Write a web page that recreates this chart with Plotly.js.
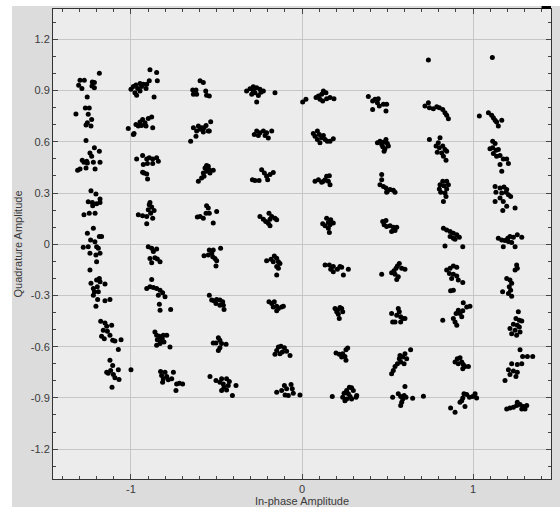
<!DOCTYPE html>
<html>
<head>
<meta charset="utf-8">
<script src="https://cdn.plot.ly/plotly-3.0.1.min.js"></script>
<style>
  html, body { margin: 0; padding: 0; background: #ffffff; }
  #plot { position: absolute; left: 12px; top: 6px; width: 548px; height: 501px; }
</style>
</head>
<body>
<div id="plot"></div>
<script>
// Received symbols, one [in-phase, quadrature] pair per sample, grouped by in-phase column
const col1 = [
  [-1.298,0.961],[-1.273,0.961],[-1.306,0.931],[-1.287,0.912],[-1.226,0.951],[-1.214,0.947],[-1.228,0.927],[-1.214,0.916],[-1.185,1.002],[-1.256,0.863],
  [-1.322,0.763],[-1.267,0.798],[-1.244,0.798],[-1.250,0.761],[-1.230,0.731],[-1.255,0.712],[-1.234,0.692],[-1.263,0.698],[-1.263,0.608],
  [-1.312,0.433],[-1.298,0.441],[-1.285,0.492],[-1.275,0.480],[-1.259,0.486],[-1.263,0.447],[-1.240,0.535],[-1.214,0.565],[-1.185,0.545],[-1.230,0.516],[-1.220,0.480],[-1.181,0.480],[-1.210,0.441],[-1.255,0.476],
  [-1.234,0.314],[-1.205,0.294],[-1.250,0.249],[-1.226,0.245],[-1.201,0.237],[-1.181,0.245],[-1.181,0.265],[-1.224,0.225],[-1.244,0.182],[-1.275,0.173],[-1.210,0.182],
  [-1.220,0.094],[-1.255,0.064],[-1.185,0.045],[-1.172,0.045],[-1.236,0.025],[-1.211,0.015],[-1.279,-0.018],[-1.250,-0.014],[-1.201,-0.014],[-1.191,-0.024],[-1.240,-0.053],[-1.205,-0.063],[-1.181,-0.053],[-1.201,-0.102],[-1.240,-0.151],
  [-1.234,-0.229],[-1.201,-0.210],[-1.185,-0.200],[-1.181,-0.220],[-1.152,-0.233],[-1.220,-0.259],[-1.197,-0.249],[-1.214,-0.278],[-1.191,-0.278],[-1.220,-0.298],[-1.195,-0.324],[-1.205,-0.363],[-1.152,-0.331],[-1.123,-0.324],
  [-1.177,-0.451],[-1.152,-0.461],[-1.142,-0.480],[-1.113,-0.475],[-1.162,-0.504],[-1.138,-0.510],[-1.123,-0.533],[-1.156,-0.553],[-1.107,-0.563],[-1.094,-0.567],[-1.058,-0.559],[-1.074,-0.616],[-1.172,-0.539],
  [-1.123,-0.680],[-1.107,-0.710],[-1.142,-0.749],[-1.119,-0.739],[-1.103,-0.763],[-1.074,-0.735],[-1.094,-0.782],[-1.070,-0.792],[-1.111,-0.837],[-1.000,-0.735],[-1.133,-0.755]
];

const col2 = [
  [-1.000,0.908],[-0.986,0.924],[-0.971,0.933],[-0.961,0.912],[-0.947,0.941],[-0.938,0.924],[-0.928,0.937],[-0.908,0.937],[-0.912,0.912],[-0.893,0.957],[-0.977,0.888],[-0.967,0.873],[-0.947,0.898],[-0.889,1.022],[-0.850,1.006],[-0.846,0.957],[-0.865,0.863],
  [-1.016,0.678],[-0.982,0.649],[-0.971,0.702],[-0.986,0.643],[-0.957,0.692],[-0.947,0.716],[-0.938,0.696],[-0.932,0.731],[-0.918,0.712],[-0.912,0.692],[-0.899,0.737],[-0.879,0.745],[-0.873,0.682],
  [-0.967,0.500],[-0.932,0.520],[-0.908,0.500],[-0.893,0.506],[-0.873,0.500],[-0.850,0.506],[-0.840,0.486],[-0.873,0.473],[-0.904,0.473],[-0.928,0.467],[-0.924,0.418],[-0.908,0.412],[-0.903,0.382],[-0.932,0.422],
  [-0.957,0.173],[-0.932,0.167],[-0.908,0.163],[-0.899,0.202],[-0.893,0.231],[-0.889,0.245],[-0.879,0.218],[-0.865,0.198],[-0.885,0.182],[-0.908,0.120],[-0.873,0.153],
  [-0.899,-0.014],[-0.879,-0.024],[-0.850,-0.028],[-0.869,-0.043],[-0.889,-0.083],[-0.879,-0.108],[-0.860,-0.079],[-0.846,-0.086],[-0.830,-0.102],
  [-0.879,-0.206],[-0.908,-0.259],[-0.889,-0.249],[-0.869,-0.253],[-0.850,-0.259],[-0.830,-0.269],[-0.815,-0.284],[-0.840,-0.298],[-0.801,-0.308],[-0.834,-0.351],[-0.830,-0.386],[-0.768,-0.382],
  [-0.860,-0.514],[-0.850,-0.533],[-0.834,-0.539],[-0.846,-0.559],[-0.830,-0.563],[-0.811,-0.533],[-0.791,-0.533],[-0.817,-0.553],[-0.807,-0.573],[-0.850,-0.592],[-0.830,-0.582],[-0.772,-0.602],
  [-0.827,-0.745],[-0.801,-0.749],[-0.821,-0.769],[-0.811,-0.788],[-0.791,-0.775],[-0.815,-0.808],[-0.782,-0.794],[-0.762,-0.788],[-0.752,-0.749],[-0.733,-0.818],[-0.717,-0.814],[-0.698,-0.818],[-0.737,-0.857]
];

const col3 = [
  [-0.639,0.904],[-0.620,0.904],[-0.635,0.878],[-0.616,0.878],[-0.596,0.957],[-0.577,0.947],[-0.563,0.898],[-0.558,0.873],[-0.542,0.869],
  [-0.651,0.604],[-0.620,0.633],[-0.635,0.682],[-0.606,0.692],[-0.596,0.673],[-0.587,0.682],[-0.573,0.682],[-0.577,0.657],[-0.561,0.696],[-0.548,0.663],[-0.534,0.718],[-0.542,0.663],[-0.616,0.663],
  [-0.606,0.369],[-0.587,0.388],[-0.577,0.418],[-0.567,0.447],[-0.558,0.461],[-0.548,0.457],[-0.542,0.437],[-0.519,0.433],[-0.558,0.427],[-0.573,0.398],[-0.538,0.418],
  [-0.612,0.159],[-0.596,0.163],[-0.558,0.225],[-0.548,0.212],[-0.542,0.182],[-0.561,0.182],[-0.577,0.153],[-0.519,0.124],[-0.499,0.192],
  [-0.542,-0.034],[-0.519,-0.034],[-0.476,-0.024],[-0.573,-0.067],[-0.548,-0.063],[-0.522,-0.073],[-0.509,-0.083],[-0.499,-0.096],[-0.503,-0.128],[-0.528,-0.053],
  [-0.542,-0.298],[-0.528,-0.327],[-0.515,-0.331],[-0.499,-0.324],[-0.480,-0.327],[-0.464,-0.337],[-0.460,-0.357],[-0.456,-0.382],[-0.480,-0.357],[-0.503,-0.347],
  [-0.489,-0.547],[-0.480,-0.563],[-0.503,-0.578],[-0.519,-0.578],[-0.470,-0.582],[-0.480,-0.606],[-0.489,-0.622],[-0.444,-0.586],
  [-0.538,-0.775],[-0.503,-0.798],[-0.480,-0.808],[-0.470,-0.788],[-0.460,-0.818],[-0.441,-0.788],[-0.425,-0.804],[-0.431,-0.827],[-0.456,-0.837],[-0.470,-0.857],[-0.441,-0.853],[-0.407,-0.886],[-0.386,-0.827]
];

const col4 = [
  [-0.324,0.898],[-0.304,0.911],[-0.285,0.923],[-0.265,0.917],[-0.246,0.908],[-0.226,0.898],[-0.275,0.888],[-0.255,0.872],[-0.265,0.833],[-0.294,0.878],[-0.158,0.888],[-0.285,0.900],[-0.240,0.890],
  [-0.279,0.643],[-0.265,0.663],[-0.246,0.653],[-0.226,0.663],[-0.207,0.653],[-0.177,0.663],[-0.197,0.623],[-0.255,0.637],[-0.216,0.637],
  [-0.290,0.378],[-0.275,0.374],[-0.251,0.374],[-0.236,0.437],[-0.220,0.417],[-0.207,0.398],[-0.201,0.378],[-0.168,0.421],[-0.187,0.408],
  [-0.246,0.163],[-0.226,0.147],[-0.212,0.133],[-0.197,0.123],[-0.187,0.147],[-0.193,0.182],[-0.177,0.163],[-0.158,0.153],[-0.148,0.143],[-0.187,0.108],
  [-0.207,-0.096],[-0.181,-0.088],[-0.162,-0.069],[-0.148,-0.082],[-0.138,-0.102],[-0.129,-0.112],[-0.148,-0.131],[-0.138,-0.141],[-0.148,-0.180],[-0.168,-0.102],
  [-0.193,-0.337],[-0.177,-0.347],[-0.162,-0.337],[-0.148,-0.363],[-0.138,-0.377],[-0.119,-0.367],[-0.109,-0.363],[-0.148,-0.390],[-0.168,-0.367],
  [-0.148,-0.622],[-0.138,-0.602],[-0.123,-0.598],[-0.103,-0.606],[-0.090,-0.626],[-0.070,-0.651],[-0.158,-0.645],[-0.129,-0.641],[-0.115,-0.631],
  [-0.148,-0.867],[-0.119,-0.857],[-0.103,-0.828],[-0.090,-0.847],[-0.080,-0.886],[-0.064,-0.821],[-0.057,-0.847],[-0.051,-0.873],[-0.099,-0.883],[-0.012,-0.883]
];

const col5 = [
  [0.004,0.833],[0.023,0.849],[0.082,0.859],[0.096,0.869],[0.115,0.878],[0.125,0.898],[0.140,0.888],[0.105,0.849],[0.121,0.839],[0.144,0.853],[0.164,0.859],[0.187,0.853],
  [0.066,0.649],[0.090,0.663],[0.076,0.633],[0.101,0.643],[0.115,0.624],[0.105,0.594],[0.135,0.614],[0.148,0.604],[0.183,0.618],[0.125,0.637],[0.090,0.614],[0.164,0.604],
  [0.076,0.369],[0.096,0.378],[0.115,0.363],[0.135,0.378],[0.144,0.398],[0.160,0.402],[0.154,0.369],[0.164,0.349],[0.125,0.369],
  [0.121,0.120],[0.144,0.153],[0.154,0.127],[0.168,0.143],[0.164,0.114],[0.154,0.094],[0.160,0.069],[0.183,0.124],[0.135,0.108],
  [0.135,-0.122],[0.160,-0.122],[0.183,-0.131],[0.168,-0.147],[0.183,-0.161],[0.222,-0.131],[0.232,-0.135],[0.242,-0.180],[0.271,-0.147],[0.207,-0.147],
  [0.193,-0.376],[0.207,-0.386],[0.222,-0.371],[0.232,-0.376],[0.238,-0.396],[0.212,-0.410],[0.218,-0.435],[0.203,-0.396],
  [0.199,-0.637],[0.218,-0.645],[0.238,-0.641],[0.257,-0.618],[0.267,-0.608],[0.251,-0.657],[0.257,-0.680],[0.232,-0.661],
  [0.177,-0.892],[0.238,-0.896],[0.246,-0.873],[0.261,-0.857],[0.277,-0.837],[0.290,-0.841],[0.300,-0.857],[0.320,-0.886],[0.316,-0.896],[0.281,-0.892],[0.261,-0.906],[0.251,-0.916],[0.290,-0.906],[0.271,-0.876]
];

const col6 = [
  [0.388,0.865],[0.413,0.839],[0.427,0.849],[0.446,0.853],[0.441,0.829],[0.452,0.810],[0.476,0.820],[0.495,0.820],[0.491,0.780],[0.413,0.790],
  [0.441,0.594],[0.456,0.604],[0.466,0.584],[0.476,0.598],[0.491,0.614],[0.499,0.590],[0.485,0.559],[0.505,0.575],[0.480,0.545],[0.472,0.571],
  [0.466,0.408],[0.466,0.378],[0.456,0.349],[0.476,0.339],[0.491,0.329],[0.499,0.310],[0.515,0.320],[0.534,0.316],[0.544,0.304],[0.495,0.304],
  [0.472,0.133],[0.491,0.139],[0.480,0.114],[0.495,0.104],[0.515,0.108],[0.534,0.100],[0.544,0.080],[0.524,0.075],[0.554,0.100],
  [0.466,-0.175],[0.524,-0.167],[0.538,-0.155],[0.550,-0.141],[0.558,-0.127],[0.569,-0.112],[0.583,-0.141],[0.602,-0.147],[0.544,-0.175],[0.554,-0.206],[0.563,-0.190],
  [0.524,-0.406],[0.530,-0.455],[0.544,-0.455],[0.554,-0.416],[0.563,-0.376],[0.569,-0.396],[0.577,-0.425],[0.589,-0.435],[0.602,-0.435],[0.577,-0.455],
  [0.524,-0.759],[0.534,-0.739],[0.544,-0.716],[0.558,-0.700],[0.569,-0.671],[0.573,-0.651],[0.589,-0.661],[0.602,-0.641],[0.612,-0.671],[0.597,-0.700],[0.635,-0.618],[0.577,-0.690],
  [0.530,-0.896],[0.563,-0.876],[0.577,-0.892],[0.589,-0.906],[0.597,-0.886],[0.602,-0.833],[0.583,-0.925],[0.577,-0.945],[0.608,-0.896],[0.647,-0.902],[0.710,-0.890]
];

const col7 = [
  [0.739,1.080],[0.719,0.810],[0.739,0.829],[0.745,0.800],[0.768,0.794],[0.788,0.806],[0.803,0.800],[0.823,0.790],[0.836,0.771],[0.846,0.755],[0.856,0.735],
  [0.745,0.614],[0.807,0.624],[0.797,0.594],[0.784,0.575],[0.803,0.565],[0.823,0.575],[0.836,0.555],[0.846,0.545],[0.791,0.539],[0.817,0.535],[0.827,0.516],[0.842,0.492],
  [0.823,0.369],[0.846,0.369],[0.807,0.349],[0.830,0.343],[0.856,0.349],[0.803,0.324],[0.846,0.324],[0.811,0.304],[0.836,0.300],[0.842,0.280],[0.827,0.251],
  [0.827,0.094],[0.846,0.084],[0.866,0.075],[0.885,0.065],[0.905,0.055],[0.920,0.041],[0.866,0.045],[0.885,0.035],[0.895,0.029],[0.836,-0.010],[0.940,-0.014],
  [0.846,-0.151],[0.866,-0.141],[0.885,-0.127],[0.905,-0.135],[0.862,-0.171],[0.885,-0.175],[0.905,-0.186],[0.875,-0.200],[0.914,-0.210],[0.940,-0.224],[0.869,-0.273],[0.885,-0.269],
  [0.823,-0.445],[0.885,-0.435],[0.901,-0.406],[0.914,-0.386],[0.924,-0.406],[0.940,-0.390],[0.943,-0.343],[0.963,-0.367],[0.982,-0.363],[0.895,-0.455],[0.905,-0.475],[0.934,-0.425],
  [0.895,-0.690],[0.908,-0.671],[0.924,-0.665],[0.934,-0.690],[0.943,-0.704],[0.953,-0.716],[0.973,-0.716],[0.940,-0.729],[0.914,-0.700],
  [0.869,-0.959],[0.895,-0.984],[0.924,-0.925],[0.940,-0.900],[0.947,-0.876],[0.963,-0.880],[0.979,-0.896],[0.998,-0.892],[1.012,-0.876],[1.021,-0.900],[0.953,-0.951],[0.934,-0.916]
];

const col8 = [
  [1.113,1.094],[1.037,0.751],[1.090,0.771],[1.109,0.755],[1.119,0.741],[1.129,0.727],[1.138,0.716],[1.148,0.692],[1.168,0.727],
  [1.115,0.604],[1.129,0.590],[1.099,0.559],[1.115,0.565],[1.135,0.551],[1.148,0.555],[1.119,0.531],[1.138,0.516],[1.158,0.520],[1.177,0.500],[1.197,0.500],[1.207,0.473],[1.158,0.467],[1.168,0.427],
  [1.129,0.339],[1.158,0.329],[1.181,0.335],[1.197,0.320],[1.134,0.304],[1.168,0.300],[1.193,0.304],[1.207,0.290],[1.220,0.280],[1.158,0.271],[1.129,0.251],[1.177,0.251],[1.197,0.222],[1.246,0.212],[1.174,0.198],
  [1.148,0.035],[1.168,0.025],[1.187,0.022],[1.203,0.035],[1.216,0.045],[1.236,0.041],[1.259,0.055],[1.285,0.041],[1.226,0.010],[1.246,-0.014],[1.177,-0.014],[1.207,0.016],
  [1.255,-0.122],[1.259,-0.141],[1.197,-0.200],[1.216,-0.210],[1.226,-0.229],[1.212,-0.249],[1.220,-0.269],[1.207,-0.288],[1.173,-0.278],[1.226,-0.304],[1.246,-0.151],
  [1.265,-0.396],[1.251,-0.435],[1.271,-0.445],[1.285,-0.449],[1.236,-0.469],[1.259,-0.475],[1.271,-0.484],[1.216,-0.494],[1.246,-0.504],[1.275,-0.514],[1.255,-0.533],[1.226,-0.524],
  [1.275,-0.618],[1.290,-0.657],[1.318,-0.657],[1.349,-0.657],[1.259,-0.704],[1.285,-0.700],[1.226,-0.700],[1.207,-0.735],[1.236,-0.743],[1.259,-0.749],[1.251,-0.775],[1.187,-0.798],[1.216,-0.763],
  [1.197,-0.965],[1.216,-0.959],[1.236,-0.955],[1.255,-0.945],[1.259,-0.925],[1.275,-0.939],[1.294,-0.951],[1.314,-0.945],[1.285,-0.965],[1.304,-0.965]
];

// Axis labelling
const xTickVals = [-1, 0, 1];
const xTickText = ['-1', '0', '1'];
const yTickVals = [-1.2, -0.9, -0.6, -0.3, 0, 0.3, 0.6, 0.9, 1.2];
const yTickText = ['-1.2', '-0.9', '-0.6', '-0.3', '0', '0.3', '0.6', '0.9', '1.2'];

const samples = [col1, col2, col3, col4, col5, col6, col7, col8].flat();

const trace = {
  type: 'scatter',
  mode: 'markers',
  x: samples.map(p => p[0]),
  y: samples.map(p => p[1]),
  marker: { color: '#000000', size: 5, line: { width: 0 } },
  hoverinfo: 'x+y'
};

const font = { family: 'Liberation Sans, Arial, sans-serif', size: 11, color: '#3a3a3a' };

const axisCommon = {
  showline: true,
  linecolor: '#333333',
  linewidth: 1,
  mirror: 'ticks',
  ticks: 'inside',
  ticklen: 5,
  tickcolor: '#444444',
  tickwidth: 1,
  showgrid: true,
  gridcolor: '#c6c6c6',
  gridwidth: 1,
  zeroline: false,
  tickfont: font,
  fixedrange: true
};

const layout = {
  width: 548,
  height: 501,
  margin: { l: 41, r: 9, t: 3, b: 28, pad: 0 },
  paper_bgcolor: '#dcdcdc',
  plot_bgcolor: '#ececec',
  showlegend: false,
  font: font,
  xaxis: Object.assign({}, axisCommon, {
    range: [-1.456, 1.456],
    tickmode: 'array',
    tickvals: xTickVals,
    ticktext: xTickText,
    minor: { tickmode: 'linear', tick0: 0, dtick: 0.1, ticks: 'inside', ticklen: 3, tickcolor: '#444444', showgrid: false },
    title: { text: 'In-phase Amplitude', font: font, standoff: 4 }
  }),
  yaxis: Object.assign({}, axisCommon, {
    range: [-1.375, 1.378],
    tickmode: 'array',
    tickvals: yTickVals,
    ticktext: yTickText,
    minor: { tickmode: 'linear', tick0: 0, dtick: 0.1, ticks: 'inside', ticklen: 3, tickcolor: '#444444', showgrid: false },
    title: { text: 'Quadrature Amplitude', font: font, standoff: 6 }
  }),
  shapes: [
    // small dark tab sitting on the top-right corner of the frame
    { type: 'rect', xref: 'paper', yref: 'paper', x0: 0.981, x1: 1.0, y0: 1.0, y1: 1.0085,
      fillcolor: '#000000', line: { width: 0 } }
  ]
};

Plotly.newPlot('plot', [trace], layout, { displayModeBar: false, staticPlot: true });
</script>
</body>
</html>
